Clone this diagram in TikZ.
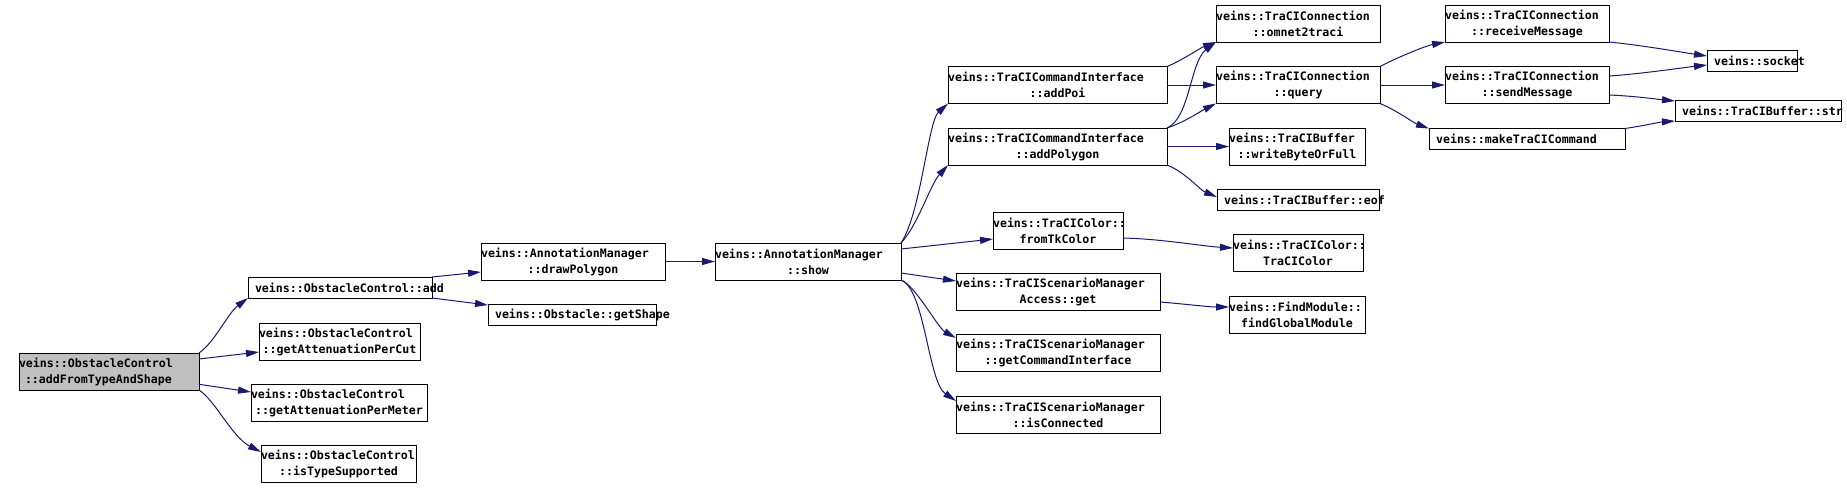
\documentclass[tikz,border=0pt]{standalone}
\usepackage{fontspec}
\setmonofont{DejaVu Sans Mono}
\usetikzlibrary{arrows.meta}
\definecolor{edgeblue}{HTML}{191970}
\definecolor{nodegray}{HTML}{BFBFBF}
\newcommand{\twol}[3]{\makebox[#1][l]{#2}\\\makebox[#1][c]{#3}}
\newcommand{\onel}[2]{\makebox[#1][l]{\hspace{3.5pt}#2}}
\begin{document}
\begin{tikzpicture}[x=0.5pt,y=-0.5pt,
  bx/.style={draw=black, line width=0.5pt, inner sep=0pt, outer sep=0pt, align=center,
    font={\ttfamily\bfseries\fontsize{5.81pt}{8pt}\selectfont}},
  two/.style={bx, minimum height=18.5pt},
  one/.style={bx, minimum height=10.5pt},
  edge/.style={draw=edgeblue, line width=0.5pt, -{Triangle[length=6.5pt,width=3.5pt]}, fill=none},
]
\useasboundingbox (0,0) rectangle (1847,489);

% column 0
\node[two, minimum width=90pt, fill=nodegray] (afs) at (109,371.5)
  {\makebox[90pt][l]{veins::ObstacleControl}\\\makebox[90pt][l]{\hspace{3pt}::addFromTypeAndShape}};
% column 1
\node[one, minimum width=92pt] (add) at (340,287.5) {\onel{92pt}{veins::ObstacleControl::add}};
\node[two, minimum width=80.5pt] (gapc) at (339.5,341.5) {\twol{80.5pt}{veins::ObstacleControl}{::getAttenuationPerCut}};
\node[two, minimum width=88pt] (gapm) at (339,402.5) {\twol{88pt}{veins::ObstacleControl}{::getAttenuationPerMeter}};
\node[two, minimum width=77.5pt] (its) at (338.5,463.5) {\twol{77.5pt}{veins::ObstacleControl}{::isTypeSupported}};
% column 2
\node[two, minimum width=92pt] (drawpoly) at (573,261.5) {\twol{92pt}{veins::AnnotationManager}{::drawPolygon}};
\node[one, minimum width=84pt] (getshape) at (572,314.5) {\onel{84pt}{veins::Obstacle::getShape}};
% column 3
\node[two, minimum width=93pt] (show) at (808,261.5) {\twol{93pt}{veins::AnnotationManager}{::show}};
% column 4
\node[two, minimum width=109.5pt] (addpoi) at (1057.5,85) {\twol{109.5pt}{veins::TraCICommandInterface}{::addPoi}};
\node[two, minimum width=109.5pt] (addpolygon) at (1057.5,146.5) {\twol{109.5pt}{veins::TraCICommandInterface}{::addPolygon}};
\node[two, minimum width=65pt] (ftk) at (1058,231) {\twol{65pt}{veins::TraCIColor::}{fromTkColor}};
\node[two, minimum width=102pt] (smget) at (1058,291.5) {\twol{102pt}{veins::TraCIScenarioManager}{Access::get}};
\node[two, minimum width=102pt] (gci) at (1058,353) {\twol{102pt}{veins::TraCIScenarioManager}{::getCommandInterface}};
\node[two, minimum width=102pt] (isc) at (1058,414.5) {\twol{102pt}{veins::TraCIScenarioManager}{::isConnected}};
% column 5
\node[two, minimum width=82pt] (omnet) at (1298,23.5) {\twol{82pt}{veins::TraCIConnection}{::omnet2traci}};
\node[two, minimum width=82pt] (query) at (1298,85) {\twol{82pt}{veins::TraCIConnection}{::query}};
\node[two, minimum width=68pt] (wbof) at (1297,146.5) {\twol{68pt}{veins::TraCIBuffer}{::writeByteOrFull}};
\node[one, minimum width=81pt] (eof) at (1298,199.5) {\onel{81pt}{veins::TraCIBuffer::eof}};
\node[two, minimum width=65pt] (tcol) at (1298,253) {\twol{65pt}{veins::TraCIColor::}{TraCIColor}};
\node[two, minimum width=68pt] (fgm) at (1297,315) {\twol{68pt}{veins::FindModule::}{findGlobalModule}};
% column 6
\node[two, minimum width=82pt] (recv) at (1527,23.5) {\twol{82pt}{veins::TraCIConnection}{::receiveMessage}};
\node[two, minimum width=82pt] (send) at (1527,85) {\twol{82pt}{veins::TraCIConnection}{::sendMessage}};
\node[one, minimum width=98pt] (mktc) at (1527,139) {\onel{98pt}{veins::makeTraCICommand}};
% column 7
\node[one, minimum width=45pt] (socket) at (1752,61) {\onel{45pt}{veins::socket}};
\node[one, minimum width=83pt] (str) at (1758,110.5) {\onel{83pt}{veins::TraCIBuffer::str}};

% edges
\draw[edge] (afs.north east) .. controls +(16,-11) and +(-20,15) .. (add.south west);
\draw[edge] ([yshift=6.25pt]afs.east) -- ([yshift=-5.25pt]gapc.west);
\draw[edge] ([yshift=-6.4pt]afs.east) -- ([yshift=5.25pt]gapm.west);
\draw[edge] (afs.south east) .. controls +(16,10) and +(-29,-15) .. ([yshift=5.75pt]its.west);

\draw[edge] (add.north east) -- ([yshift=-5.25pt]drawpoly.west);
\draw[edge] (add.south east) -- ([yshift=4.75pt]getshape.west);
\draw[edge] (drawpoly.east) -- (show.west);

\draw[edge] (show.north east) .. controls +(20,-30) and +(-20,18) .. (addpoi.south west);
\draw[edge] (show.north east) .. controls +(17,-18) and +(-18,20) .. (addpolygon.south west);
\draw[edge] ([yshift=6.25pt]show.east) -- ([yshift=-4pt]ftk.west);
\draw[edge] ([yshift=-5.75pt]show.east) -- ([yshift=5.25pt]smget.west);
\draw[edge] (show.south east) .. controls +(14,5) and +(-18,-10) .. ([yshift=7.5pt]gci.west);
\draw[edge] (show.south east) .. controls +(24,9) and +(-28,-19) .. ([yshift=6.75pt]isc.west);

\draw[edge] (addpoi.north east) .. controls +(15,-6) and +(-16,6) .. (omnet.south west);
\draw[edge] (addpoi.east) -- (query.west);
\draw[edge] (addpolygon.north east) .. controls +(23,-10) and +(-26,20) .. (omnet.south west);
\draw[edge] (addpolygon.north east) .. controls +(18,-6) and +(-16,8) .. (query.south west);
\draw[edge] (addpolygon.east) -- (wbof.west);
\draw[edge] (addpolygon.south east) .. controls +(18,7) and +(-17,-7) .. ([yshift=1.25pt]eof.west);

\draw[edge] (query.north east) .. controls +(15,-8) and +(-20,4) .. (recv.south west);
\draw[edge] (query.east) -- (send.west);
\draw[edge] (query.south east) .. controls +(15,6) and +(-14,-5) .. (mktc.north west);

\draw[edge] (recv.south east) .. controls +(31,3) and +(-27,-4) .. ([yshift=2.5pt]socket.west);
\draw[edge] ([yshift=4.5pt]send.east) .. controls +(31,-2) and +(-27,3) .. ([yshift=-2pt]socket.west);
\draw[edge] ([yshift=-5pt]send.east) .. controls +(25,1) and +(-20,-2) .. ([yshift=4.75pt]str.west);
\draw[edge] (mktc.north east) .. controls +(20,-3) and +(-15,1) .. (str.south west);

\draw[edge] ([yshift=-3.5pt]ftk.east) .. controls +(40,1) and +(-33,-2) .. ([yshift=2.5pt]tcol.west);
\draw[edge] ([yshift=-5.25pt]smget.east) .. controls +(25,2) and +(-20,0) .. ([yshift=4pt]fgm.west);
\end{tikzpicture}
\end{document}
